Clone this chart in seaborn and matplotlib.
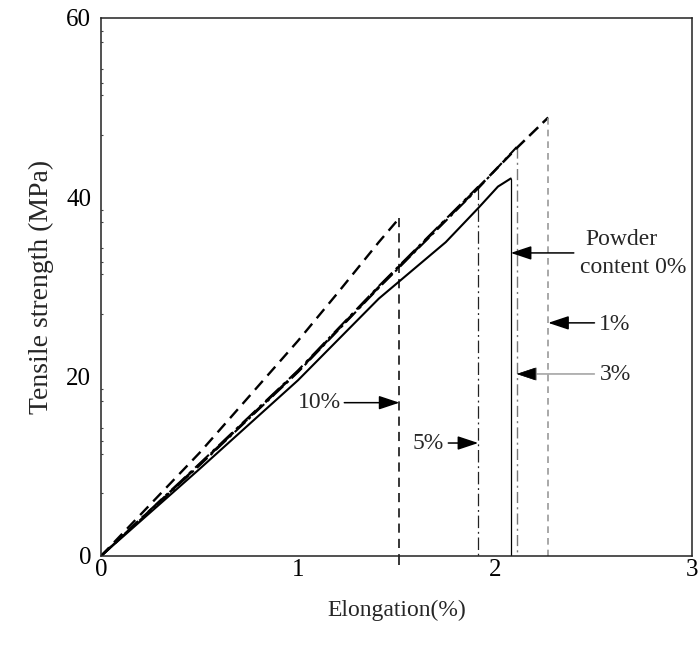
import matplotlib
matplotlib.use("Agg")
import matplotlib.pyplot as plt
import seaborn as sns
import numpy as np
import pandas as pd
from matplotlib.ticker import FixedLocator

# Stress-strain curves for each powder content
elong_0 = [0, 0.5, 1.0, 1.41, 1.75, 1.915, 2.015, 2.08]
stress_0 = [0, 9.7, 19.6, 28.7, 35.0, 38.8, 41.2, 42.1]

elong_1 = [0, 0.5, 1.0, 1.41, 1.915, 2.115, 2.27]
stress_1 = [0, 10.2, 20.6, 30.0, 41.1, 45.6, 48.9]

elong_3 = [0, 0.5, 1.0, 1.41, 1.915, 2.11]
stress_3 = [0, 10.1, 20.5, 29.9, 41.0, 45.6]

elong_5 = [0, 0.5, 1.0, 1.41, 1.915]
stress_5 = [0, 10.3, 20.7, 30.1, 41.2]

elong_10 = [0, 0.5, 1.0, 1.2, 1.41, 1.515]
stress_10 = [0, 11.5, 24.0, 29.3, 35.0, 37.7]

x_ticks = [0, 1, 2, 3]
y_ticks = [0, 20, 40, 60]

sns.set_theme(style="white")
plt.rcParams["font.family"] = ["Liberation Serif", "DejaVu Serif"]

fig = plt.figure(figsize=(6.99, 6.58), dpi=100)
ax = fig.add_axes([101 / 699, 1 - 556 / 658, (692 - 101) / 699, (556 - 18) / 658])

curves = [
    # (x, y, curve style, curve width, drop style, drop colour, drop width)
    (elong_10, stress_10, (0, (5, 3)), 1.7, (0, (6, 4)), "black", 1.1),
    (elong_5, stress_5, (0, (9, 2.5, 1.5, 2.5)), 1.5, (0, (10, 3, 1.5, 3)), "#222222", 0.9),
    (elong_3, stress_3, (0, (7, 2, 1.5, 2)), 1.5, (0, (8, 3, 1.5, 3)), "#777777", 1.0),
    (elong_1, stress_1, (0, (5, 2.5)), 1.8, (0, (4, 3)), "#999999", 1.2),
    (elong_0, stress_0, "-", 1.5, "-", "black", 0.9),
]

for xs, ys, ls, lw, dls, dcol, dlw in curves:
    df = pd.DataFrame({"Elongation": xs, "Stress": ys})
    sns.lineplot(data=df, x="Elongation", y="Stress", ax=ax, color="black",
                 linestyle=ls, linewidth=lw, sort=False, estimator=None)
    drop = pd.DataFrame({"Elongation": [xs[-1], xs[-1]], "Stress": [ys[-1], 0]})
    sns.lineplot(data=drop, x="Elongation", y="Stress", ax=ax, color=dcol,
                 linestyle=dls, linewidth=dlw, sort=False, estimator=None)

# the 10% drop line runs slightly past the axis
ax.plot([elong_10[-1], elong_10[-1]], [0, -1.0], color="black", lw=1.1,
        linestyle=(0, (6, 4)), clip_on=False)

ax.set_xlim(0, 3)
ax.set_ylim(0, 60)
ax.set_xticks(x_ticks)
ax.set_yticks(y_ticks)
ax.set_xticklabels([str(t) for t in x_ticks])
ax.set_yticklabels([str(t) for t in y_ticks])
minor_offsets = [1.4, 2.7, 5.7, 7.2, 8.6, 13.0]
minor = sorted({m - o for m in (20, 40, 60) for o in minor_offsets})
ax.yaxis.set_minor_locator(FixedLocator(minor))

ax.tick_params(axis="both", which="major", direction="in", length=8, width=1.0,
               colors="black", labelsize=18)
ax.tick_params(axis="x", which="major", pad=2)
ax.tick_params(axis="y", which="major", pad=7)
ax.tick_params(axis="y", which="minor", direction="in", length=1.5, width=0.8,
               left=True, colors="#444444")
ax.tick_params(top=False, right=False)

for s in ax.spines.values():
    s.set_visible(True)
    s.set_color("#222222")
    s.set_linewidth(1.1)

ax.set_xlabel("Elongation(%)", fontsize=17, labelpad=14)
ax.set_ylabel("Tensile strength (MPa)", fontsize=20, labelpad=9)


def arrow(x_from, x_to, y, color="black", lw=1.1):
    ax.annotate("", xy=(x_to, y), xytext=(x_from, y),
                arrowprops=dict(arrowstyle="-|>,head_length=0.9,head_width=0.3",
                                color=color, lw=lw, shrinkA=0, shrinkB=0,
                                mutation_scale=14),
                annotation_clip=False)
    if color != "black":
        ax.annotate("", xy=(x_to, y), xytext=(x_to + 0.02, y),
                    arrowprops=dict(arrowstyle="-|>,head_length=0.9,head_width=0.3",
                                    color="black", lw=0.5, shrinkA=0, shrinkB=0,
                                    mutation_scale=14))


fs = 17
ax.text(1.0, 17.1, "10%", fontsize=fs, va="center", ha="left")
arrow(1.235, elong_10[-1], 17.1)

ax.text(1.58, 12.6, "5%", fontsize=fs, va="center", ha="left")
arrow(1.763, elong_5[-1], 12.6)

ax.text(2.46, 35.3, "Powder", fontsize=fs, va="center", ha="left")
ax.text(2.43, 32.2, "content 0%", fontsize=fs, va="center", ha="left")
arrow(2.40, elong_0[-1], 33.8)

ax.text(2.53, 25.8, "1%", fontsize=fs, va="center", ha="left")
arrow(2.505, elong_1[-1], 26.0)

ax.text(2.53, 20.2, "3%", fontsize=fs, va="center", ha="left")
arrow(2.505, elong_3[-1], 20.3, color="#888888", lw=0.9)

ax.grid(False)
fig.savefig("out.png", dpi=100)
